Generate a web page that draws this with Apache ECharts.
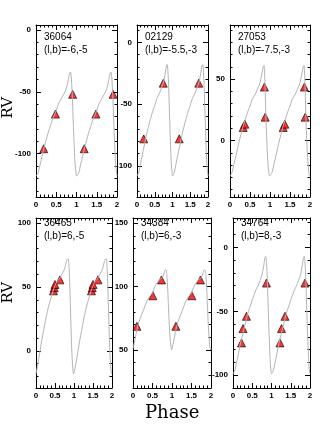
<!DOCTYPE html>
<html><head><meta charset="utf-8">
<script src="https://cdn.jsdelivr.net/npm/echarts@6/dist/echarts.min.js"></script>
<style>html,body{margin:0;padding:0;background:#fff}#c{width:327px;height:436px}</style>
</head><body><div id="c"></div>
<script>
// ---- data ----
const curvePhase = [0,0.05,0.1,0.15,0.2,0.25,0.3,0.35,0.4,0.45,0.5,0.55,0.6,0.65,0.7,0.75,0.8,0.83,0.85,0.87,0.89,0.91,0.93,0.95,0.97,0.99,1.0];
const curve36064 = [-118,-116,-109,-102,-95,-89,-83,-78,-73,-69,-65,-60,-57,-54,-51,-47,-40,-35,-34,-38,-49,-66,-83,-99,-110,-116,-118];
const curve02129 = [-108,-105,-98,-91,-84,-77,-71,-65,-60,-55,-51,-46,-43,-40,-36,-32,-24,-19,-18,-23,-34,-53,-71,-87,-100,-106,-108];
const curve27053 = [-29,-26,-19,-12,-5,2,8,14,19,24,28,33,36,39,43,47,55,60,61,50,28,8,-8,-19,-26,-29,-29];
const curve36465 = [-18,-10,-1,8,16,24,31,37,42,47,51,54,56,58,61,64,70,72,72,65,50,30,10,-5,-14,-18,-18];
const curve34384 = [51,58,66,72,76,80,84,88,91,93,95,99,102,104,106,107,111,113,113,108,98,84,70,60,53,50,51];
const curve34764 = [-99,-96,-89,-82,-74,-68,-62,-56,-50,-46,-41,-37,-33,-30,-26,-22,-14,-8,-7,-12,-24,-43,-62,-78,-91,-98,-99];

const obsPhase36064 = [0.19,0.48,0.905];   const obsRV36064 = [-96,-68,-52];
const obsPhase02129 = [0.19,0.74];         const obsRV02129 = [-78,-33];
const obsPhase27053 = [0.33,0.37,0.86,0.88]; const obsRV27053 = [10.6,13.3,43.5,19];
const obsPhase36465 = [0.46,0.48,0.5,0.63]; const obsRV36465 = [47,49.5,52,55.6];
const obsPhase34384 = [0.1,0.51,0.73];     const obsRV34384 = [68.6,92.7,105.2];
const obsPhase34764 = [0.22,0.26,0.35,0.87]; const obsRV34764 = [-74.7,-63.5,-53.9,-27.9];

const starIds = ['36064','02129','27053','36465','34384','34764'];
const starLB = ['(l,b)=-6,-5','(l,b)=-5.5,-3','(l,b)=-7.5,-3','(l,b)=6,-5','(l,b)=6,-3','(l,b)=8,-3'];
const yMins = [-135,-125,-46,-29,20,-110];
const yMaxs = [4,14,94,104,154,23];
const yMajorTicks = [[-100,-50,0],[-100,-50,0],[0,50],[0,50,100],[50,100,150],[-100,-50,0]];
const xTickLabels = [0,0.5,1,1.5,2];

const curves = [curve36064,curve02129,curve27053,curve36465,curve34384,curve34764];
const obsPh = [obsPhase36064,obsPhase02129,obsPhase27053,obsPhase36465,obsPhase34384,obsPhase34764];
const obsRV = [obsRV36064,obsRV02129,obsRV27053,obsRV36465,obsRV34384,obsRV34764];

// ---- layout ----
const boxes = [[36,25,81,172],[137,25,71,172],[230,25,80,172],[36,218,76,170],[133,218,78,170],[233,218,77,170]];
const labelTop = [13,13,13,6,6,6];

const chart = echarts.init(document.getElementById('c'), null, {renderer:'canvas'});
const grids=[], xAxes=[], yAxes=[], series=[], graphics=[];
const black = '#000';
const tickFont = {fontSize:8, color:black, fontFamily:'Liberation Sans, Arial, sans-serif', fontWeight:'bold'};

boxes.forEach((b,g)=>{
  grids.push({left:b[0], top:b[1], width:b[2], height:b[3], containLabel:false});
  const xBase = {gridIndex:g, type:'value', min:0, max:2, interval:0.5,
    axisLine:{show:true, onZero:false, lineStyle:{color:black,width:1}},
    axisTick:{show:true, inside:true, length:5, lineStyle:{color:black,width:1}},
    minorTick:{show:true, splitNumber:5, length:2.5, lineStyle:{color:black,width:1}},
    splitLine:{show:false}};
  xAxes.push(Object.assign({}, xBase, {position:'bottom', axisLabel:Object.assign({show:true, margin:4, customValues:xTickLabels}, tickFont)}));
  xAxes.push(Object.assign({}, xBase, {position:'top', axisLabel:{show:false}}));
  const minors=[];
  for (let v=Math.ceil(yMins[g]/10)*10; v<=yMaxs[g]; v+=10) minors.push(v);
  const mk = (pos, major) => ({gridIndex:g, type:'value', position:pos, min:yMins[g], max:yMaxs[g],
    axisLine:{show:major, onZero:false, lineStyle:{color:black,width:1}},
    axisTick:{show:true, inside:true, length: major?5:2.5, customValues: major?yMajorTicks[g]:minors, lineStyle:{color:black,width:1}},
    axisLabel: (major && pos==='left') ? Object.assign({show:true, margin:5, customValues:yMajorTicks[g]}, tickFont) : {show:false},
    splitLine:{show:false}});
  yAxes.push(mk('left',true), mk('left',false), mk('right',true), mk('right',false));

  const lineData=[];
  for (let c=0;c<2;c++) curvePhase.forEach((p,i)=>lineData.push([p+c, curves[g][i]]));
  series.push({type:'line', xAxisIndex:2*g, yAxisIndex:4*g, data:lineData, showSymbol:false, smooth:0.3,
    lineStyle:{color:'#b4b4b4', width:1}, silent:true, animation:false, clip:true});
  const pts=[];
  for (let c=0;c<2;c++) obsPh[g].forEach((p,i)=>pts.push([p+c, obsRV[g][i]]));
  series.push({type:'scatter', xAxisIndex:2*g, yAxisIndex:4*g, data:pts, symbol:'triangle', symbolSize:8,
    itemStyle:{color:'#ff0000', borderColor:black, borderWidth:0.8}, animation:false, clip:false});

  graphics.push({type:'text', left:b[0]+8, top:b[1]+labelTop[g]-6, style:{text:starIds[g], fontSize:10, fill:black, fontFamily:'Liberation Sans, Arial, sans-serif'}});
  graphics.push({type:'text', left:b[0]+8, top:b[1]+labelTop[g]+7, style:{text:starLB[g], fontSize:10, fill:black, fontFamily:'Liberation Sans, Arial, sans-serif'}});
});

graphics.push({type:'text', left:1, top:97, rotation:Math.PI/2, style:{text:'RV', fontSize:15, fill:black, fontFamily:'DejaVu Serif, serif'}});
graphics.push({type:'text', left:1, top:282, rotation:Math.PI/2, style:{text:'RV', fontSize:15, fill:black, fontFamily:'DejaVu Serif, serif'}});
graphics.push({type:'text', left:145, top:404, style:{text:'Phase', fontSize:18, fill:black, fontFamily:'DejaVu Serif, serif'}});

chart.setOption({animation:false, backgroundColor:'#fff', grid:grids, xAxis:xAxes, yAxis:yAxes, series:series, graphic:graphics});
</script></body></html>
